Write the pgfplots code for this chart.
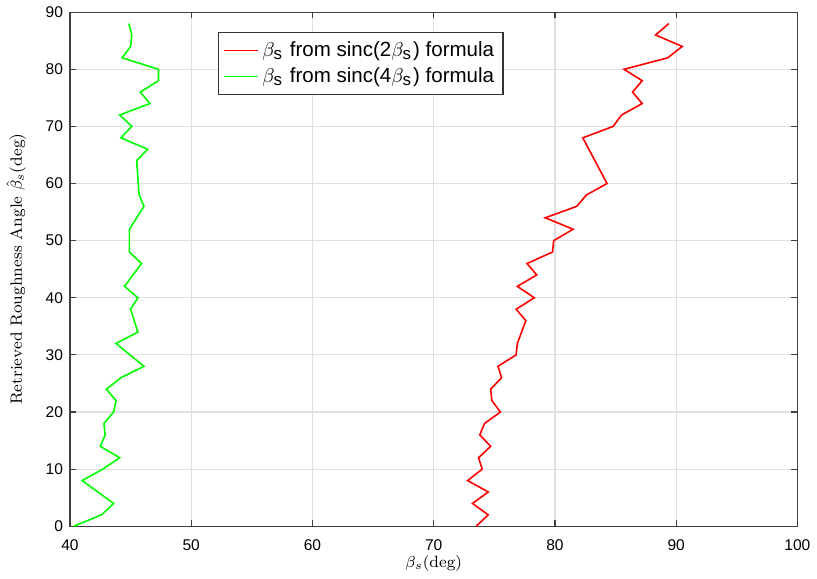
\documentclass[border=0pt]{standalone}
\usepackage{fontspec}
\setsansfont{Liberation Sans}
\usepackage{pgfplots}
\pgfplotsset{compat=1.18}

% retrieved roughness angle (y) against true angle (x)
\pgfplotstableread{
y    x
0    73.5
2    74.5
4    73.2
6    74.5
8    72.8
10   74.0
12   73.7
14   74.7
16   73.8
18   74.2
20   75.5
22   74.8
24   74.7
26   75.6
28   75.3
30   76.8
32   76.9
36   77.6
38   76.8
40   78.3
42   76.9
44   78.5
46   77.7
48   79.8
50   79.9
52   81.5
54   79.2
56   81.8
58   82.6
60   84.3
64   83.3
68   82.3
70   84.8
72   85.5
74   87.2
76   86.4
78   87.2
80   85.7
82   89.3
84   90.5
86   88.3
88   89.4
}\sinctwo

\pgfplotstableread{
y    x
0    40.3
2    42.6
4    43.6
8    41.0
10   42.7
12   44.1
14   42.5
16   42.9
18   42.8
20   43.6
22   43.8
24   43.0
26   44.2
28   46.1
32   43.8
34   45.6
38   45.0
40   45.6
42   44.5
46   45.9
48   44.9
52   44.9
56   46.1
58   45.7
64   45.5
66   46.4
68   44.2
70   45.1
72   44.1
74   46.6
76   45.8
78   47.3
80   47.3
82   44.3
84   45.0
86   45.1
88   44.85
}\sincfour

\newcommand{\bs}{$\beta_{\mbox{\sffamily\fontsize{8.5}{8.5}\selectfont s}}$\kern0.5pt}

\begin{document}
\begin{tikzpicture}
\begin{axis}[
  scale only axis,
  width=365pt, height=258pt,
  xmin=40, xmax=100, ymin=0, ymax=90,
  xtick={40,50,...,100}, ytick={0,10,...,90},
  tick align=inside,
  major tick length=3pt,
  axis line style={black!75, line width=0.6pt},
  tick style={black!75, line width=0.6pt},
  grid=major,
  grid style={black!12, line width=0.6pt},
  ticklabel style={font=\sffamily\fontsize{7.8}{9}\selectfont},
  xticklabel style={yshift=-3pt},
  /pgf/number format/assume math mode=true,
  xlabel={$\beta_s(\mathrm{deg})$},
  ylabel={Retrieved Roughness Angle $\hat{\beta}_s$(deg)},
  label style={font=\fontsize{8.2}{9}\selectfont},
  xlabel style={yshift=4pt},
  ylabel style={yshift=3pt},
  legend cell align=left,
  legend style={at={(0.203,0.961)}, anchor=north west,
    draw=black!80, line width=0.6pt,
    font=\sffamily\fontsize{10.3}{11.5}\selectfont,
    row sep=0pt, inner sep=2.5pt},
  legend image post style={line width=0.6pt},
]
\addplot[red, line width=0.8pt] table[x=x, y=y] {\sinctwo};
\addlegendentry{\bs\ from sinc(2\bs) formula}
\addplot[green, line width=0.8pt] table[x=x, y=y] {\sincfour};
\addlegendentry{\bs\ from sinc(4\bs) formula}
\end{axis}
\end{tikzpicture}
\end{document}
